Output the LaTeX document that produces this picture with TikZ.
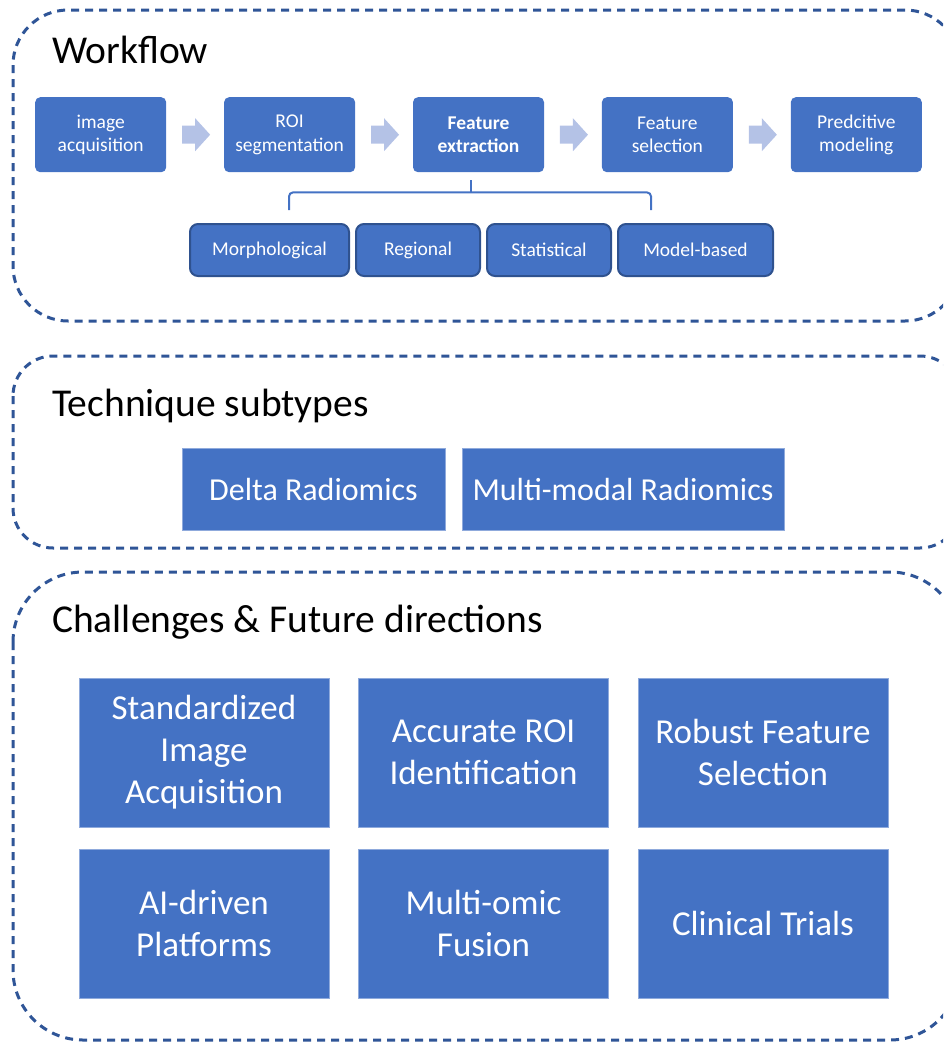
\documentclass[tikz,border=0pt]{standalone}
\usepackage{fontspec}
\setmainfont{Carlito}
\usetikzlibrary{positioning,calc}
\definecolor{boxblue}{HTML}{4472C4}
\definecolor{boxedge}{HTML}{2F528F}
\definecolor{frameblue}{HTML}{2F5597}
\definecolor{arrowblue}{HTML}{B4C2E6}
\definecolor{lightedge}{HTML}{8FAADC}

\begin{document}
\begin{tikzpicture}[x=1pt,y=-1pt]

  \tikzset{frame/.style={draw=frameblue, line width=3pt, dash pattern=on 8pt off 6pt}}
  \tikzset{title/.style={anchor=base west, inner sep=0, font=\fontsize{39.5}{47}\selectfont}}
  \tikzset{stepbox/.style={fill=boxblue, text=white, rounded corners=5pt, minimum width=131pt,
      minimum height=75pt, inner sep=0, align=center, font=\fontsize{19.5}{23.5}\selectfont}}
  \tikzset{kindbox/.style={fill=boxblue, draw=boxedge, line width=2pt, text=white, rounded corners=8pt,
      minimum height=52pt, inner sep=0, font=\fontsize{19.5}{23.5}\selectfont}}
  \tikzset{typebox/.style={fill=boxblue, draw=lightedge, line width=1pt, text=white,
      minimum height=82pt, inner sep=0, font=\fontsize{32}{38}\selectfont}}
  \tikzset{taskbox/.style={fill=boxblue, draw=lightedge, line width=1pt, text=white, minimum width=250pt,
      minimum height=149pt, inner sep=0, align=center, font=\fontsize{35}{42}\selectfont}}

  \useasboundingbox (0,0) rectangle (943,1042);
  \clip (0,0) rectangle (943,1042);

  % Frames
  \draw[frame, rounded corners=55pt] (13,10) rectangle (960,321);
  \draw[frame, rounded corners=40pt] (13,356) rectangle (960,548);
  \draw[frame, rounded corners=70pt] (13,572) rectangle (960,1040);

  % Titles
  \node[title] (workflow) at (52,63) {Workflow};
  \node[title] (subtypes) at (52,416) {Technique subtypes};
  \node[title] (challenges) at (52,632) {Challenges \& Future directions};

  % Workflow steps
  \node[stepbox, anchor=north west] (acquisition) at (35,97) {image\\acquisition};
  \node[stepbox, right=57.5pt of acquisition] (segmentation) {ROI\\segmentation};
  \node[stepbox, right=57.5pt of segmentation, font=\fontsize{19.5}{23.5}\selectfont\bfseries] (extraction) {Feature\\extraction};
  \node[stepbox, right=57.5pt of extraction] (selection) {Feature\\selection};
  \node[stepbox, right=57.5pt of selection] (modeling) {Predcitive\\modeling};

  % Block arrows between the steps
  \foreach \a/\b in {acquisition/segmentation, segmentation/extraction, extraction/selection, selection/modeling} {
    \coordinate (mid) at ($(\a.east)!0.5!(\b.west)$);
    \fill[arrowblue] ($(mid)+(-13,-9)$) -- ($(mid)+(0,-9)$) -- ($(mid)+(0,-16.5)$) -- ($(mid)+(15,0)$)
      -- ($(mid)+(0,16.5)$) -- ($(mid)+(0,9)$) -- ($(mid)+(-13,9)$) -- cycle;
  }

  % Feature kinds
  \node[kindbox, minimum width=159pt, anchor=north west] (morphological) at (189,223) {Morphological};
  \node[kindbox, minimum width=124pt, right=5pt of morphological] (regional) {Regional};
  \node[kindbox, minimum width=124pt, right=5pt of regional] (statistical) {Statistical};
  \node[kindbox, minimum width=155pt, right=5pt of statistical] (modelbased) {Model-based};

  % Brace from feature extraction
  \coordinate (brace top) at ($(extraction.south)+(-7.5,8)$);
  \coordinate (brace mid) at ($(extraction.south)+(-7.5,20)$);
  \coordinate (brace left) at ($(morphological.north)+(19.5,-13)$);
  \coordinate (brace right) at ($(modelbased.north)+(-44.5,-13)$);
  \draw[boxblue, line width=2pt, rounded corners=4pt] (brace left) |- (brace mid) -| (brace right);
  \draw[boxblue, line width=2pt] (brace mid) -- (brace top);

  % Technique subtypes
  \node[typebox, minimum width=263pt, anchor=north west] (delta) at (181.5,447.5) {Delta Radiomics};
  \node[typebox, minimum width=322pt, right=16pt of delta] (multimodal) {Multi-modal Radiomics};

  % Challenges
  \node[taskbox, anchor=north west] (standardized) at (78.5,677.5) {Standardized\\Image\\Acquisition};
  \node[taskbox, right=28.5pt of standardized] (identification) {Accurate ROI\\Identification};
  \node[taskbox, right=28.5pt of identification] (robust) {Robust Feature\\Selection};
  \node[taskbox, below=21pt of standardized] (platforms) {AI-driven\\Platforms};
  \node[taskbox, right=28.5pt of platforms] (fusion) {Multi-omic\\Fusion};
  \node[taskbox, right=28.5pt of fusion] (trials) {Clinical Trials};

\end{tikzpicture}
\end{document}
